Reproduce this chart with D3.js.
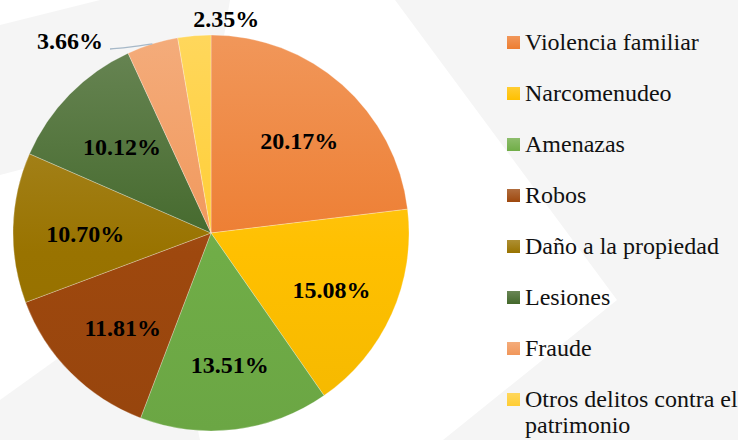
<!DOCTYPE html>
<html>
<head>
<meta charset="utf-8">
<script src="https://cdn.jsdelivr.net/npm/d3@7"></script>
<style>
  html, body { margin: 0; padding: 0; background: #fff; }
  svg { display: block; }
  svg text { font-family: "Liberation Serif", "Times New Roman", serif; }
</style>
</head>
<body>
<svg id="chart" width="738" height="440"></svg>
<script>
const categories = ["Violencia familiar", "Narcomenudeo", "Amenazas", "Robos",
    "Daño a la propiedad", "Lesiones", "Fraude", "Otros delitos contra el patrimonio"];
const values = [20.17, 15.08, 13.51, 11.81, 10.70, 10.12, 3.66, 2.35];
const labels = ["20.17%", "15.08%", "13.51%", "11.81%", "10.70%", "10.12%", "3.66%", "2.35%"];
const colors = ["#ED7D31", "#FFC000", "#70AD47", "#9E480E", "#997300", "#43682B", "#F1975A", "#FFCD33"];

const svg = d3.select("#chart");
const W = 738, H = 440;
const cx = 211, cy = 233, radius = 198;

// faint watermark shapes in the background
const bg = svg.append("g");
bg.append("rect").attr("width", W).attr("height", H).attr("fill", "#ffffff");
const shapes = [
    [[0, 25], [100, 0], [230, 0], [210, 120], [0, 175]],
    [[395, 0], [738, 0], [738, 440], [443, 440], [617, 300]],
    [[0, 400], [60, 357], [170, 300], [200, 440], [0, 440]]
];
bg.selectAll("path.shape")
    .data(shapes)
    .join("path")
    .attr("class", "shape")
    .attr("d", d => d3.line()(d) + "Z")
    .attr("fill", "#f5f5f5");

// gradients like office shading (lighter at top)
const defs = svg.append("defs");
colors.forEach((c, i) => {
    const grad = defs.append("linearGradient")
        .attr("id", "grad" + i)
        .attr("gradientUnits", "userSpaceOnUse")
        .attr("x1", 0).attr("y1", -radius)
        .attr("x2", 0).attr("y2", radius);
    grad.append("stop").attr("offset", "0%").attr("stop-color", d3.interpolateRgb(c, "#fff")(0.2));
    grad.append("stop").attr("offset", "55%").attr("stop-color", c);
    grad.append("stop").attr("offset", "100%").attr("stop-color", d3.color(c).darker(0.12));

    const lg = defs.append("linearGradient")
        .attr("id", "lgrad" + i)
        .attr("x1", 0).attr("y1", 0).attr("x2", 0).attr("y2", 1);
    lg.append("stop").attr("offset", "0%").attr("stop-color", d3.interpolateRgb(c, "#fff")(0.2));
    lg.append("stop").attr("offset", "100%").attr("stop-color", c);
});

const pie = d3.pie().sort(null).value(d => d);
const arcs = pie(values);
const arc = d3.arc().innerRadius(0).outerRadius(radius);
const labelArc = d3.arc().innerRadius(radius * 0.65).outerRadius(radius * 0.65);

const g = svg.append("g").attr("transform", `translate(${cx},${cy})`);

g.selectAll("path.slice")
    .data(arcs)
    .join("path")
    .attr("class", "slice")
    .attr("d", arc)
    .attr("fill", (d, i) => `url(#grad${i})`)
    .attr("stroke", "#ffffff")
    .attr("stroke-opacity", 0.45)
    .attr("stroke-width", 0.6);

// inner labels for the big slices
g.selectAll("text.inner")
    .data(arcs.filter(d => d.index < 6))
    .join("text")
    .attr("class", "inner")
    .attr("transform", d => {
        const [x, y] = labelArc.centroid(d);
        return `translate(${x + 3},${y + 4})`;
    })
    .attr("text-anchor", "middle")
    .attr("dy", "0.35em")
    .attr("font-weight", "bold")
    .attr("font-size", 24)
    .attr("fill", "#000")
    .text(d => labels[d.index]);

// outside labels for Fraude and Otros
const edgeArc = d3.arc().innerRadius(radius).outerRadius(radius);
const fraude = arcs[6], otros = arcs[7];
const fp = edgeArc.centroid(fraude);
g.append("path")
    .attr("d", d3.line().curve(d3.curveBasis)([[-101, -184], [-80, -186], [fp[0], fp[1]]]))
    .attr("fill", "none")
    .attr("stroke", "#a6b8c8")
    .attr("stroke-width", 1.3);
g.append("text")
    .attr("x", -108).attr("y", -184)
    .attr("text-anchor", "end")
    .attr("font-weight", "bold")
    .attr("font-size", 24)
    .text(labels[fraude.index]);

const op = edgeArc.centroid(otros);
g.append("text")
    .attr("x", op[0] + 32).attr("y", op[1] - 9)
    .attr("text-anchor", "middle")
    .attr("font-weight", "bold")
    .attr("font-size", 24)
    .text(labels[otros.index]);

// legend
const legendY = d3.scalePoint().domain(categories).range([50, 407]);
const legend = svg.append("g").attr("transform", "translate(507,0)");
const item = legend.selectAll("g.item")
    .data(categories)
    .join("g")
    .attr("class", "item")
    .attr("transform", d => `translate(0,${legendY(d)})`);

item.append("rect")
    .attr("x", 0).attr("y", -14)
    .attr("width", 13).attr("height", 13)
    .attr("fill", (d, i) => `url(#lgrad${i})`);

item.append("text")
    .attr("x", 18).attr("y", 0)
    .attr("font-size", 24)
    .attr("fill", "#111")
    .each(function (d) {
        const t = d3.select(this);
        if (d === "Otros delitos contra el patrimonio") {
            t.append("tspan").attr("x", 18).attr("dy", 0).text("Otros delitos contra el");
            t.append("tspan").attr("x", 18).attr("dy", 26).text("patrimonio");
        } else {
            t.text(d);
        }
    });
</script>
</body>
</html>
